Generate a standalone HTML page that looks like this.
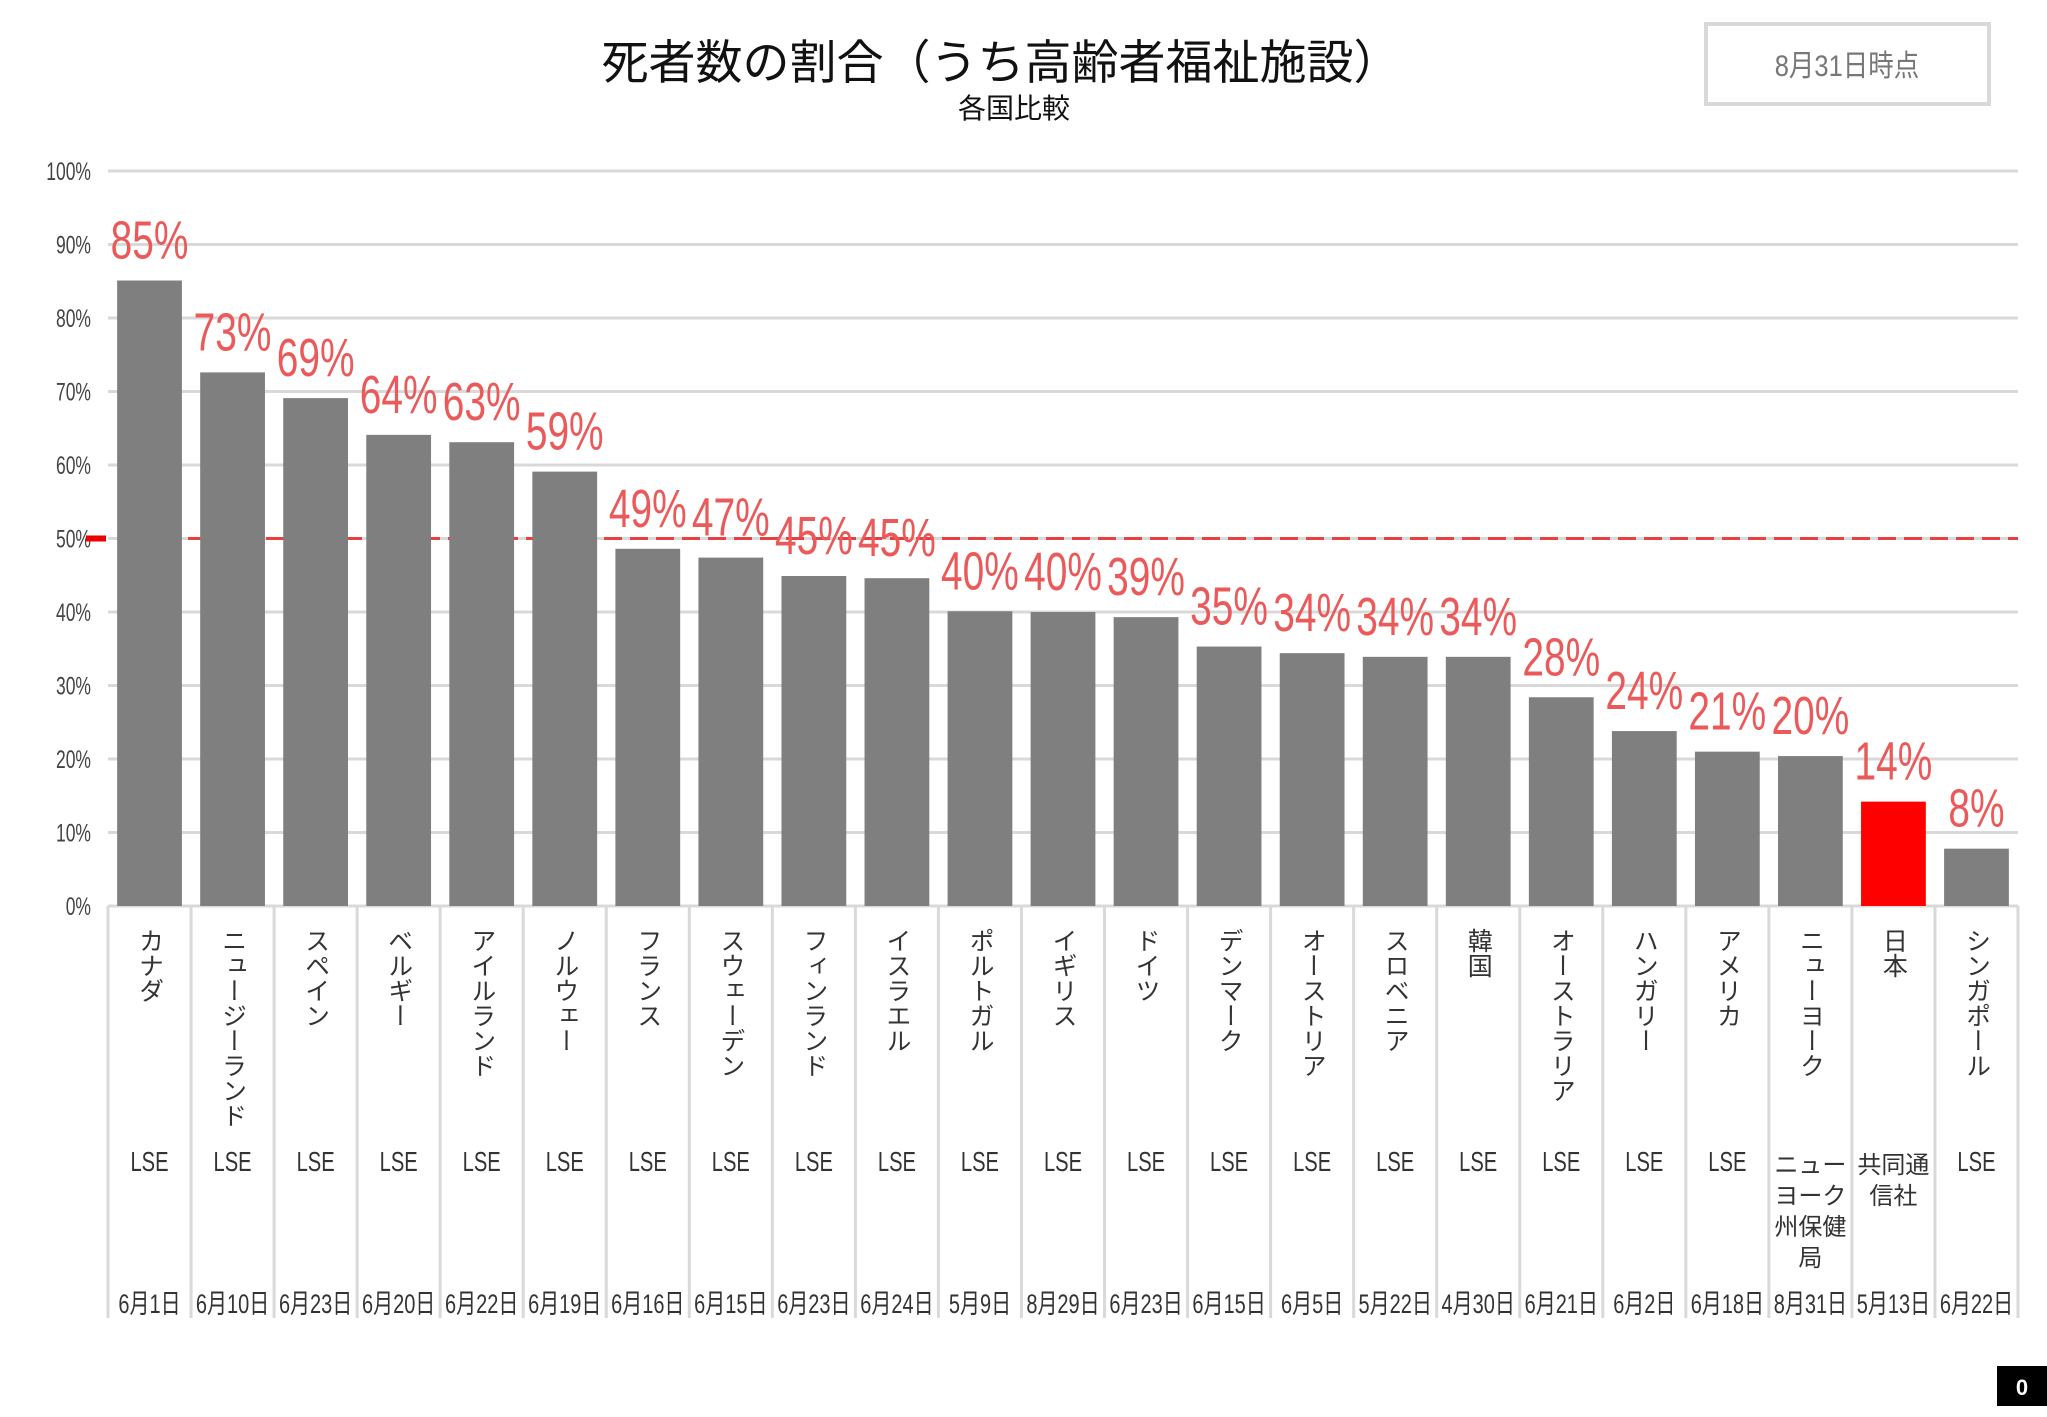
<!DOCTYPE html>
<html><head><meta charset="utf-8">
<style>
body{margin:0;background:#fff;}
svg{display:block;font-family:"Liberation Sans","Noto Sans CJK JP",sans-serif;}
</style></head>
<body>
<svg id="chart" width="2047" height="1417" viewBox="0 0 2047 1417" xmlns="http://www.w3.org/2000/svg">
<text x="1001" y="79" text-anchor="middle" font-size="47" fill="#111">死者数の割合（うち高齢者福祉施設）</text>
<text x="1014" y="118" text-anchor="middle" font-size="28" fill="#111">各国比較</text>
<rect x="1706" y="24" width="283" height="80" fill="#fff" stroke="#d9d9d9" stroke-width="4"/>
<text x="1847" y="76" text-anchor="middle" font-size="30" fill="#777" transform="translate(1847 0) scale(0.85 1) translate(-1847 0)">8月31日時点</text>
<rect x="1997" y="1366" width="50" height="40" fill="#000"/>
<text x="2022" y="1395" text-anchor="middle" font-size="22" font-weight="bold" fill="#fff">0</text>
<g id="grid"></g><g id="bars"></g><g id="labels"></g>
</svg>
<script>
const categories=["カナダ","ニュージーランド","スペイン","ベルギー","アイルランド","ノルウェー","フランス","スウェーデン","フィンランド","イスラエル","ポルトガル","イギリス","ドイツ","デンマーク","オーストリア","スロベニア","韓国","オーストラリア","ハンガリー","アメリカ","ニューヨーク","日本","シンガポール"];
const values=[85.1,72.6,69.1,64.1,63.1,59.1,48.6,47.4,44.9,44.6,40.1,40.0,39.3,35.3,34.4,33.9,33.9,28.4,23.8,21.0,20.4,14.2,7.8];
const sources=[["LSE"],["LSE"],["LSE"],["LSE"],["LSE"],["LSE"],["LSE"],["LSE"],["LSE"],["LSE"],["LSE"],["LSE"],["LSE"],["LSE"],["LSE"],["LSE"],["LSE"],["LSE"],["LSE"],["LSE"],["ニュー","ヨーク","州保健","局"],["共同通","信社"],["LSE"]];
const dates=["6月1日","6月10日","6月23日","6月20日","6月22日","6月19日","6月16日","6月15日","6月23日","6月24日","5月9日","8月29日","6月23日","6月15日","6月5日","5月22日","4月30日","6月21日","6月2日","6月18日","8月31日","5月13日","6月22日"];
const highlight=["日本"];
const yTicks=[0,10,20,30,40,50,60,70,80,90,100];
const refValue=50;

const NS="http://www.w3.org/2000/svg";
const X0=108,X1=2018,Y0=906,Y100=171;
const step=(X1-X0)/categories.length;
const y=v=>Y0-(v/100)*(Y0-Y100);
const xc=i=>X0+step*(i+0.5);
function mk(tag,attrs,parent){const e=document.createElementNS(NS,tag);for(const k in attrs)e.setAttribute(k,attrs[k]);parent.appendChild(e);return e;}
const grid=document.getElementById('grid'),bars=document.getElementById('bars'),labels=document.getElementById('labels');

yTicks.forEach(t=>{
 const l=mk('line',{x1:X0,x2:X1,y1:y(t),y2:y(t),stroke:'#d9d9d9','stroke-width':3},grid);
 
 
 const tx=mk('text',{x:91,y:y(t)+9,'text-anchor':'end','font-size':25,fill:'#444',transform:`translate(91 0) scale(0.7 1) translate(-91 0)`},grid);
 tx.textContent=t+'%';
 
 
});
const ref=mk('line',{x1:X0+80,x2:X1,y1:y(refValue),y2:y(refValue),stroke:'#e84040','stroke-width':3,'stroke-dasharray':'18 8'},grid);


const rt=mk('rect',{x:86,y:y(refValue)-3,width:20,height:6,fill:'#e00'},grid);



for(let i=0;i<=categories.length;i++){
 const s=mk('line',{x1:X0+step*i,x2:X0+step*i,y1:Y0,y2:1318,stroke:'#d9d9d9','stroke-width':3},grid);
 
 
}

categories.forEach((c,i)=>{
 const bw=step*0.78, v=values[i];
 const r=mk('rect',{x:xc(i)-bw/2,y:y(v),width:bw,height:Y0-y(v),fill:highlight.includes(c)?'#ff0000':'#7f7f7f'},bars);
 
 
 const vl=mk('text',{x:xc(i),y:y(v)-22,'text-anchor':'middle','font-size':54,fill:'#ea5a5a',transform:`translate(${xc(i)} 0) scale(0.72 1) translate(${-xc(i)} 0)`},labels);
 vl.textContent=Math.round(v)+'%';
 
 
 const nm=mk('text',{x:xc(i),y:928,'font-size':25,fill:'#333',style:'writing-mode:vertical-rl;text-orientation:upright'},labels);
 nm.textContent=c;
 
 
 sources[i].forEach((s,j)=>{
  const isL=s==='LSE';
  const st=mk('text',{x:xc(i),y:(isL?1171:1173)+j*31,'text-anchor':'middle','font-size':isL?28:24,fill:'#333',transform:isL?`translate(${xc(i)} 0) scale(0.72 1) translate(${-xc(i)} 0)`:''},labels);
  st.textContent=s;
  
  
 });
 const dt=mk('text',{x:xc(i),y:1313,'text-anchor':'middle','font-size':27,fill:'#333',transform:`translate(${xc(i)} 0) scale(0.74 1) translate(${-xc(i)} 0)`},labels);
 dt.textContent=dates[i];
 
 
});
</script>
</body></html>
